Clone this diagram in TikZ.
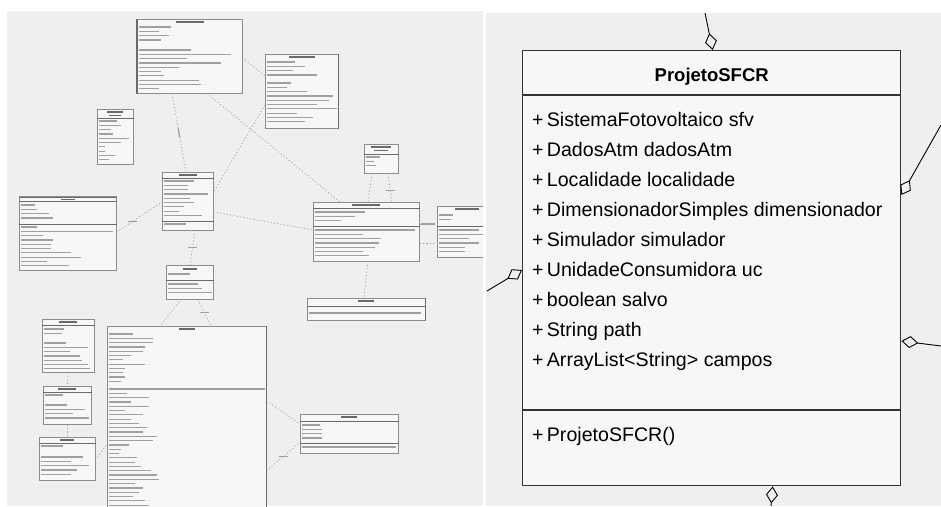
\documentclass[tikz,border=0pt]{standalone}
\usepackage{fontspec}
\setmainfont{Liberation Sans}
\usetikzlibrary{arrows.meta,calc}

\definecolor{panelgray}{HTML}{EFEFEF}
\definecolor{boxfill}{HTML}{F7F7F7}
\definecolor{boxline}{HTML}{8C8C8C}
\definecolor{clsline}{HTML}{333333}
\definecolor{fakegray}{HTML}{A0A0A0}
\definecolor{fakedark}{HTML}{6A6A6A}

% grey strokes standing in for the unreadable text of the overview
\newcommand{\fakelines}[3]{%
  \foreach \w [count=\i from 0] in {#3}
    \draw[fake] ([xshift=2pt,yshift={-(#2+\i*4.3)*1pt}]#1.north west) -- ++(\w,0);}
\newcommand{\fakehead}[3]{%
  \draw[fakehead] ([xshift=-#3pt,yshift=-#2pt]#1.north) -- ([xshift=#3pt,yshift=-#2pt]#1.north);}
\newcommand{\umlsep}[2]{%
  \draw[umlsep] ([yshift=-#2pt]#1.north west) -- ([yshift=-#2pt]#1.north east);}

\begin{document}
\begin{tikzpicture}[x=1pt,y=-1pt]
  %----- styles
  \tikzset{
    umlbox/.style ={draw=boxline,fill=boxfill,line width=0.5pt,anchor=north west,inner sep=0pt},
    umlsep/.style ={draw=fakedark,line width=0.8pt},
    edge/.style   ={draw=fakedark,line width=1.6pt},
    fake/.style   ={draw=fakegray,line width=1.2pt},
    fakehead/.style={draw=fakedark,line width=1.4pt},
    dep/.style    ={draw=fakegray,line width=0.7pt,dash pattern=on 1.2pt off 2.2pt},
    lbl/.style    ={fill=fakegray,minimum width=9pt,minimum height=1.3pt,inner sep=0pt},
    clsbox/.style ={draw=clsline,fill=boxfill,line width=1.4pt,anchor=north west,inner sep=0pt},
    attr/.style   ={anchor=base west,inner sep=0pt,font=\fontsize{19.6}{20}\selectfont},
    agg/.style    ={draw=black,line width=0.9pt,-{Diamond[open,length=17pt,width=12pt]}}
  }
  \useasboundingbox (0,0) rectangle (941,506);

  %----- panels
  \fill[panelgray] (7,11) rectangle (483,506);
  \fill[panelgray] (486,13) rectangle (941,506);

  %==================== LEFT: class overview ====================
  \begin{scope}
    \clip (7,11) rectangle (483,506);
    %----- nodes
    \node[umlbox,minimum width=105,minimum height=74]  (A) at (137,19)  {};
    \node[umlbox,minimum width=73,minimum height=74]   (B) at (265,54)  {};
    \node[umlbox,minimum width=36,minimum height=55]   (C) at (97,109)  {};
    \node[umlbox,minimum width=51,minimum height=58]   (D) at (162,172) {};
    \node[umlbox,minimum width=97,minimum height=74]   (E) at (19,196)  {};
    \node[umlbox,minimum width=106,minimum height=59]  (F) at (313,202) {};
    \node[umlbox,minimum width=34,minimum height=29]   (G) at (364,144) {};
    \node[umlbox,minimum width=60,minimum height=51]   (H) at (437,206) {};
    \node[umlbox,minimum width=47,minimum height=34]   (I) at (166,265) {};
    \node[umlbox,minimum width=118,minimum height=22]  (J) at (307,298) {};
    \node[umlbox,minimum width=52,minimum height=53]   (K) at (42,319)  {};
    \node[umlbox,minimum width=48,minimum height=38]   (L) at (43,386)  {};
    \node[umlbox,minimum width=56,minimum height=43]   (M) at (39,437)  {};
    \node[umlbox,minimum width=159,minimum height=185] (N) at (107,326) {};
    \node[umlbox,minimum width=98,minimum height=39]   (O) at (300,414) {};

    % heavier edges
    \draw[edge] (A.north west) -- (A.south west);
    \draw[edge] (N.north east) -- (N.south east);
    \draw[edge] (J.north east) -- (J.south east);
    \draw[edge] (B.north east) -- (B.south east);

    % compartments
    \umlsep{C}{9} \umlsep{D}{6} \umlsep{D}{49} \umlsep{E}{5} \umlsep{E}{28}
    \umlsep{F}{6} \umlsep{F}{24} \umlsep{G}{10} \umlsep{H}{20} \umlsep{I}{15}
    \umlsep{J}{8} \umlsep{K}{6} \umlsep{L}{6} \umlsep{M}{6} \umlsep{O}{7}
    \umlsep{O}{29} \umlsep{E}{1.5}

    % titles and members
    \fakehead{A}{3}{14} \fakelines{A}{8}{32,20,30,22}
    \fakelines{A}{31}{52,92,48,82,40,22,25,60,62,20}
    \fakehead{B}{3}{13} \fakelines{B}{8}{28,38,26,50}
    \fakelines{B}{29}{24,20,40,66,62,50,70,30,46,38}
    \fakehead{C}{3}{8} \fakehead{C}{6.5}{6}
    \fakelines{C}{12}{18,22,12,14,30,22,6,6,16,10}
    \fakehead{D}{3}{9} \fakelines{D}{9}{30,24,24,44,26,30,20,15,38} \fakelines{D}{52}{22}
    \fakehead{E}{3.3}{7} \fakelines{E}{9}{14,16,28,32}
    \fakelines{E}{31}{16,92,22,32,30,30,50,60,26,48}
    \fakehead{F}{3}{14} \fakelines{F}{10}{50,40,26} \fakelines{F}{28}{100,48,66,64,60,48,54}
    \fakehead{G}{3}{10} \fakehead{G}{6.5}{7} \fakelines{G}{13}{14,8,10}
    \fakehead{H}{3}{12} \fakelines{H}{9}{14,12} \fakelines{H}{24}{40,44,30,40,26,26}
    \fakehead{I}{4}{7} \fakelines{I}{9}{22} \fakelines{I}{19}{30,34,44}
    \fakehead{J}{3}{8} \fakelines{J}{15}{112}
    \fakehead{K}{3}{9} \fakelines{K}{10}{20,18} \fakelines{K}{24}{22,44,26,36,38,44,46}
    \fakehead{L}{3}{9} \fakelines{L}{9}{18} \fakelines{L}{19}{22,40,28,44}
    \fakehead{M}{3}{7} \fakelines{M}{9}{22} \fakelines{M}{20}{42,30,48,36,30}
    \fakehead{N}{3}{8} \fakelines{N}{8}{24,44,44,36,34,22,14,36,16,14,16,12}
    \fakelines{N}{63}{156,18,40,22,40,16,34,22,30,38,34,48,44,20,12,10,28,26,32,42,48,50,26,34,30,24,36,40,30,36,44}
    \fakehead{O}{3}{8} \fakelines{O}{11}{18,20,20,20} \fakelines{O}{33}{94}

    %----- connections
    \draw[dep] ([xshift=35pt]A.south west) -- node[lbl,sloped] {} ([xshift=24pt]D.north west);
    \draw[dep] ([xshift=70pt]A.south west) -- ([xshift=27pt]F.north west);
    \draw[dep] ([yshift=-39pt]A.north east) -- ([yshift=-22pt]B.north west);
    \draw[dep] ([yshift=-51pt]B.north west) -- ([yshift=-20pt]D.north east);
    \draw[dep] ([yshift=-36pt]E.north east) -- node[lbl,pos=0.35] {} ([yshift=-30pt]D.north west);
    \draw[dep] ([yshift=-40pt]D.north east) -- ([yshift=-28pt]F.north west);
    \draw[dep] ([xshift=33pt]D.south west) -- node[lbl] {} ([xshift=24pt]I.north west);
    \draw[dep] ([xshift=8pt]G.south west) -- ([xshift=55pt]F.north west);
    \draw[dep] ([xshift=24pt]G.south west) -- node[lbl,pos=0.6] {} ([xshift=79pt]F.north west);
    \draw[dep] ([yshift=-22pt]F.north east) -- node[lbl,minimum width=14pt] {} ([yshift=-18pt]H.north west);
    \draw[dep] ([yshift=-41pt]F.north east) -- ([yshift=-37pt]H.north west);
    \draw[dep] ([xshift=55pt]F.south west) -- ([xshift=57pt]J.north west);
    \draw[dep] ([xshift=15pt]I.south west) -- ([xshift=53pt]N.north west);
    \draw[dep] ([xshift=32pt]I.south west) -- node[lbl] {} ([xshift=104pt]N.north west);
    \draw[dep] (K.south) -- (L.north);
    \draw[dep] (L.south) -- (M.north);
    \draw[dep] ([yshift=-23pt]M.north east) -- ([yshift=-118pt]N.north west);
    \draw[dep] ([yshift=-75pt]N.north east) -- ([yshift=-10pt]O.north west);
    \draw[dep] ([yshift=-145pt]N.north east) -- node[lbl] {} ([yshift=-28pt]O.north west);
  \end{scope}

  %==================== RIGHT: ProjetoSFCR ====================
  %----- nodes
  \node[clsbox,minimum width=378,minimum height=435] (projeto) at (522,50) {};
  \draw[clsline,line width=1.4pt] ([yshift=-45pt]projeto.north west) -- ([yshift=-45pt]projeto.north east);
  \draw[clsline,line width=1.4pt] ([yshift=-360pt]projeto.north west) -- ([yshift=-360pt]projeto.north east);
  \node[anchor=base,inner sep=0pt,font=\fontsize{18.5}{19}\selectfont\bfseries] (titulo)
    at ([yshift=-31pt]projeto.north) {ProjetoSFCR};
  \foreach \a [count=\i from 0] in {SistemaFotovoltaico sfv, DadosAtm dadosAtm,
      Localidade localidade, DimensionadorSimples dimensionador, Simulador simulador,
      UnidadeConsumidora uc, boolean salvo, String path, ArrayList<String> campos}
    \node[attr] (attr\i) at ([xshift=10pt,yshift={-(76+30*\i)*1pt}]projeto.north west) {+\,\a};
  \node[attr] (metodo) at ([xshift=10pt,yshift=-391pt]projeto.north west) {+\,ProjetoSFCR()};

  %----- connections
  \coordinate (topend)   at (705,13);
  \coordinate (rightup)  at (941,125);
  \coordinate (leftend)  at (487,291);
  \coordinate (rightlow) at (941,346);
  \coordinate (botend)   at (771,506);
  \draw[agg] (topend)   -- ([xshift=1pt]projeto.north);
  \draw[agg] (rightup)  -- ([yshift=-145pt]projeto.north east);
  \draw[agg] (leftend)  -- ([yshift=-220pt]projeto.north west);
  \draw[agg] (rightlow) -- ([yshift=-291pt]projeto.north east);
  \draw[agg] (botend)   -- ([xshift=61pt]projeto.south);
\end{tikzpicture}
\end{document}
